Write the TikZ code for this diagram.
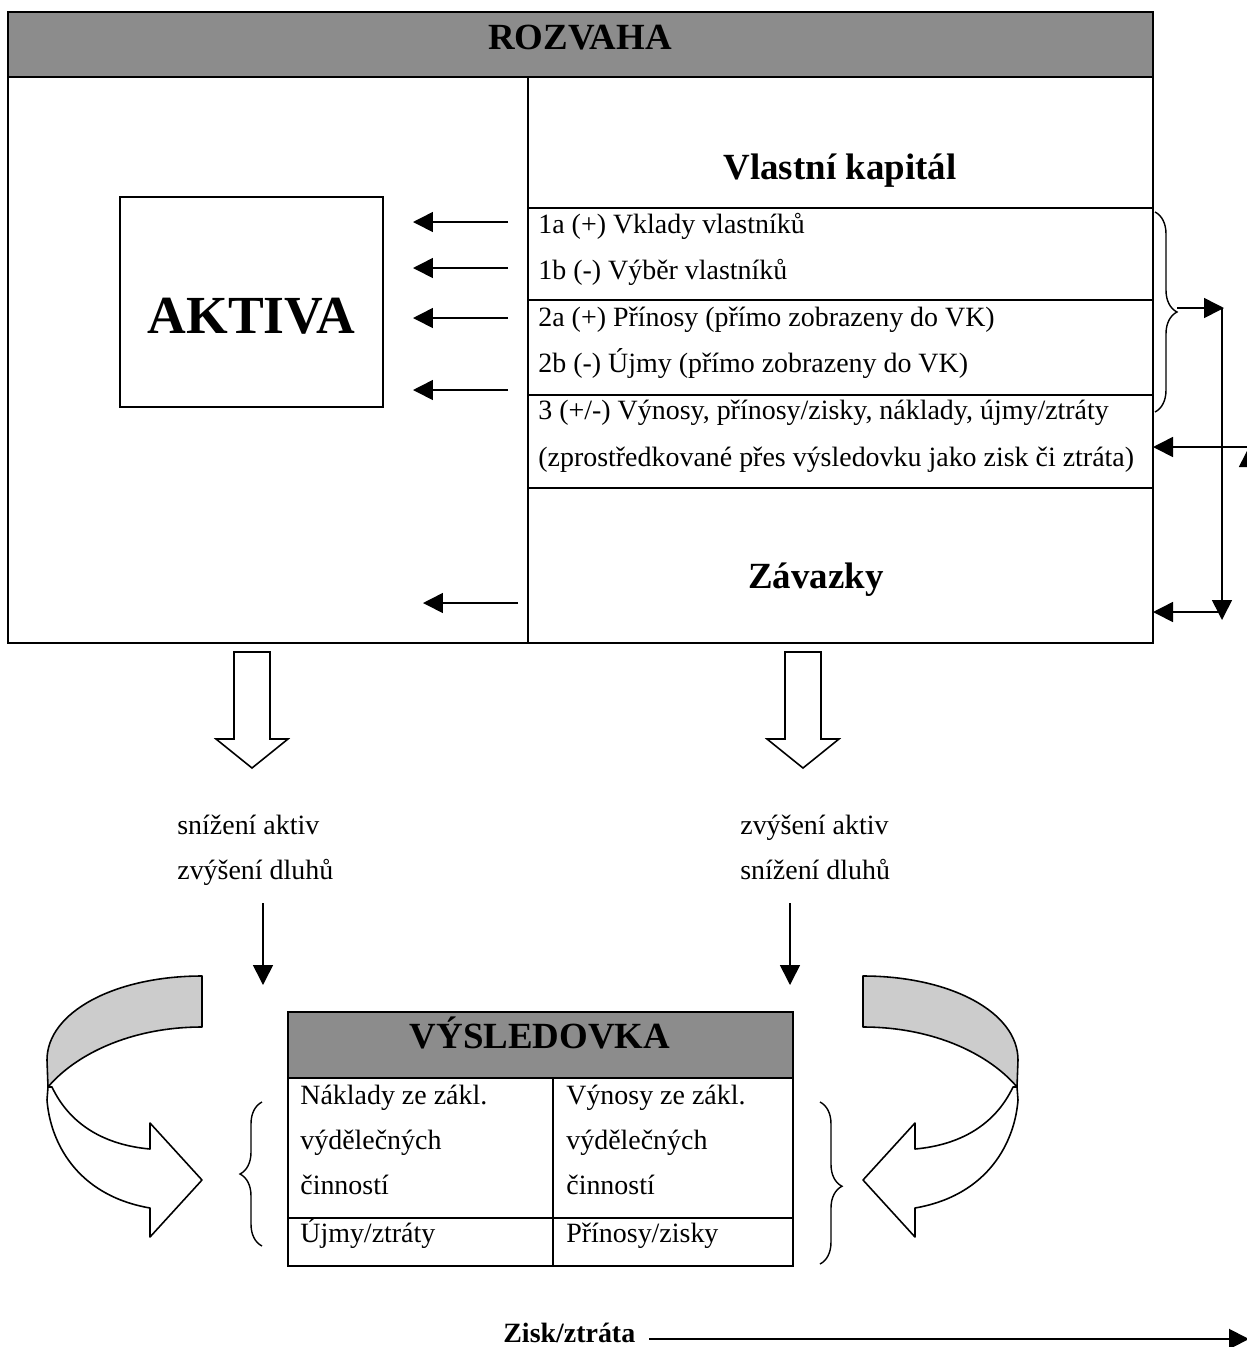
\documentclass[tikz,border=0pt]{standalone}
\usepackage{fontspec}
\setmainfont{Liberation Serif}
\usetikzlibrary{arrows.meta,decorations.pathreplacing}
\definecolor{headgray}{RGB}{140,140,140}
\definecolor{foldgray}{RGB}{204,204,204}
\tikzset{
  frame/.style={draw, line width=1.2pt},
  headbar/.style={frame, fill=headgray},
  heading/.style={anchor=base, inner sep=0pt, font=\fontsize{21}{25}\selectfont\bfseries},
  txt/.style={anchor=base west, inner sep=0pt, font=\fontsize{15.9}{19}\selectfont},
  flow/.style={-{Triangle[length=0.4cm,width=0.4cm]}, line width=0.9pt},
  hollow/.style={draw, fill=white, line width=0.9pt},
  band/.style={draw, line width=0.9pt, line join=round},
  curly/.style={decorate, decoration={brace, amplitude=0.44cm}, line width=0.8pt}
}
\begin{document}
\begin{tikzpicture}[x=0.02cm, y=-0.02cm]
\useasboundingbox (0,0) rectangle (1247,1347);
\clip (0,0) rectangle (1247,1347);
% rozvaha
\draw[headbar] (8,12) rectangle (1153,77);
\draw[frame] (8,77) rectangle (1153,643);
\draw[frame] (528,77) -- (528,643);
\foreach \y in {208,300,395,488}
  \draw[frame] (528,\y) -- (1153,\y);
\node[heading] (rozvaha) at (580,49) {ROZVAHA};
\node[draw, line width=0.9pt, minimum width=5.26cm, minimum height=4.2cm] (box) at (251.5,302) {};
\node[heading, font=\fontsize{30.5}{36}\selectfont\bfseries] (aktiva) at (251.5,333) {AKTIVA};
\node[heading] (vk) at (840,179) {Vlastní kapitál};
\node[heading] (zav) at (816,588) {Závazky};
\node[txt] (r1a) at (538,233) {1a (+) Vklady vlastníků};
\node[txt] (r1b) at (538,279) {1b (-) Výběr vlastníků};
\node[txt] (r2a) at (538,326) {2a (+) Přínosy (přímo zobrazeny do VK)};
\node[txt] (r2b) at (538,372) {2b (-) Újmy (přímo zobrazeny do VK)};
\node[txt] (r3a) at (538,419) {3 (+/-) Výnosy, přínosy/zisky, náklady, újmy/ztráty};
\node[txt] (r3b) at (538,466) {(zprostředkované přes výsledovku jako zisk či ztráta)};
% arrows into aktiva
\foreach \n/\y in {a/222,b/268,c/318,d/390} {
  \coordinate (s\n) at (508,\y);
  \coordinate (t\n) at (413,\y);
  \draw[flow] (s\n) -- (t\n);
}
\coordinate (se) at (518,603);
\coordinate (te) at (423,603);
\draw[flow] (se) -- (te);
% right side
\draw[curly] (1155,212) -- (1155,412);
\coordinate (b1) at (1177,308);
\coordinate (b2) at (1224,308);
\coordinate (b3) at (1222,308);
\coordinate (b4) at (1222,620);
\coordinate (b5) at (1222,612);
\coordinate (b6) at (1153,612);
\draw[flow] (b1) -- (b2);
\draw[flow] (b3) -- (b4);
\draw[flow] (b5) -- (b6);
\coordinate (z1) at (1249,1338);
\coordinate (z2) at (1249,447);
\coordinate (z3) at (1153,447);
\draw[flow] (z1) -- (z2);
\draw[flow] (z2) -- (z3);
% hollow arrows
\foreach \x in {252,803}
  \draw[hollow] (\x-18,652) -- (\x+18,652) -- (\x+18,739) -- (\x+36,739)
    -- (\x,768) -- (\x-36,739) -- (\x-18,739) -- cycle;
\node[txt] (sa) at (177,834) {snížení aktiv};
\node[txt] (zd) at (177,879) {zvýšení dluhů};
\node[txt] (za) at (740,834) {zvýšení aktiv};
\node[txt] (sd) at (740,879) {snížení dluhů};
\coordinate (p1) at (263,903);
\coordinate (p2) at (263,985);
\coordinate (q1) at (790,903);
\coordinate (q2) at (790,985);
\draw[flow] (p1) -- (p2);
\draw[flow] (q1) -- (q2);
% vysledovka
\draw[headbar] (288,1012) rectangle (793,1078);
\draw[frame] (288,1078) rectangle (793,1266);
\draw[frame] (553,1078) -- (553,1266);
\draw[frame] (288,1218) -- (793,1218);
\node[heading] (vys) at (540,1048) {VÝSLEDOVKA};
\node[txt] (n1) at (300,1104) {Náklady ze zákl.};
\node[txt] (n2) at (300,1149) {výdělečných};
\node[txt] (n3) at (300,1194) {činností};
\node[txt] (n4) at (300,1242) {Újmy/ztráty};
\node[txt] (v1) at (566,1104) {Výnosy ze zákl.};
\node[txt] (v2) at (566,1149) {výdělečných};
\node[txt] (v3) at (566,1194) {činností};
\node[txt] (v4) at (566,1242) {Přínosy/zisky};
\draw[curly] (262,1246) -- (262,1102);
\draw[curly, decoration={aspect=0.52}] (820,1102) -- (820,1264);
% ribbons
\foreach \s/\f in {0/1,1065/-1} {
  \begin{scope}[shift={(\s,0)}, xscale=\f]
    \draw[band, fill=white] (48,1087) -- (47,1100) .. controls (50,1140) and (75,1195) .. (150,1208)
      -- (150,1237) -- (202,1180) -- (150,1123) -- (150,1149)
      .. controls (105,1145) and (70,1125) .. (52,1087) -- cycle;
    \draw[band, fill=foldgray] (202,976) .. controls (115,976) and (47,1012) .. (47,1060)
      -- (48,1087) .. controls (75,1055) and (130,1027) .. (202,1027) -- cycle;
  \end{scope}
}
% zisk
\node[txt, font=\fontsize{15.9}{19}\selectfont\bfseries] (zisk) at (503,1342) {Zisk/ztráta};
\coordinate (k1) at (649,1339);
\coordinate (k2) at (1249,1339);
\draw[flow, line width=1.2pt] (k1) -- (k2);
\end{tikzpicture}
\end{document}
